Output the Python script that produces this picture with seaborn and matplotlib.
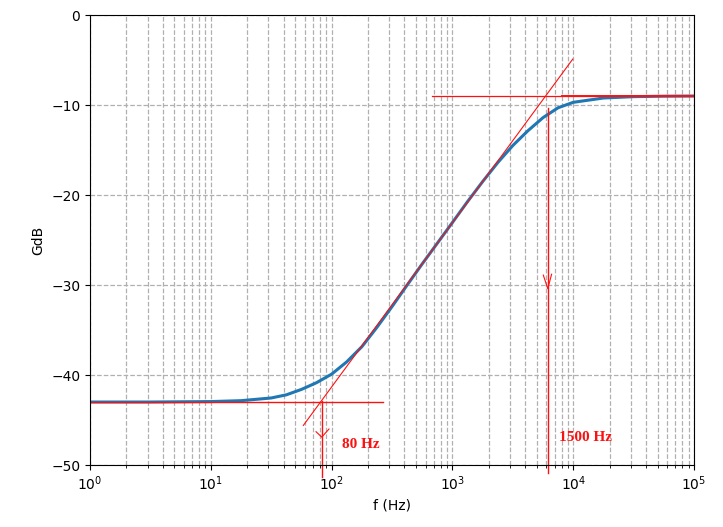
import matplotlib
matplotlib.use("Agg")
import matplotlib.pyplot as plt
import seaborn as sns
import pandas as pd

# Gain curve
freq_hz = [1, 3.16, 10, 17.8, 31.6, 42.2, 56.2, 75, 100, 133, 178, 237, 316, 422,
           562, 750, 1000, 1330, 1780, 2370, 3160, 4220, 5620, 7500, 10000,
           17800, 31600, 56200, 100000]
gain_db = [-43.0, -43.0, -42.95, -42.85, -42.55, -42.2, -41.6, -40.85, -39.9,
           -38.55, -36.85, -34.7, -32.4, -30.0, -27.65, -25.35, -23.05, -20.75,
           -18.5, -16.4, -14.5, -12.85, -11.4, -10.3, -9.7, -9.22, -9.07,
           -9.02, -9.0]

# Red hand-drawn construction lines
low_level_f = [1, 268]
low_level_g = [-43, -43]
high_level_f = [676, 100000]
high_level_g = [-9, -9]
high_level2_f = [8000, 100000]
high_level2_g = [-9, -9]
slope_f = [58.3, 9900]
slope_g = [-45.6, -4.9]
corner_low_f = [82.8, 82.8]
corner_low_g = [-42.9, -51.3]
corner_high_f = [6150, 6150]
corner_high_g = [-10.3, -50.9]
arrow_low_f = [74.3, 82.8, 95.1]
arrow_low_g = [-46.3, -46.9, -46.0]
arrow_high_f = [5650, 6150, 6620]
arrow_high_g = [-28.9, -30.4, -28.8]
labels = ["80 Hz", "1500 Hz"]
label_f = [121, 7670]
label_g = [-47.7, -46.9]

df = pd.DataFrame({"f": freq_hz, "G": gain_db})

fig = plt.figure(figsize=(7.23, 5.27), dpi=100)
ax = fig.add_axes([0.1245, 0.1176, 0.8355, 0.8539])

sns.lineplot(data=df, x="f", y="G", ax=ax, color="#1f77b4", linewidth=2.2,
             estimator=None, sort=True)

ax.set_xscale("log")
ax.set_xlim(1, 1e5)
ax.set_ylim(-50, 0)
ax.grid(True, which="both", linestyle="--", color="#b0b0b0", linewidth=0.9)
ax.set_xlabel("f (Hz)", fontsize=10)
ax.set_ylabel("GdB", fontsize=10)
ax.tick_params(labelsize=10)

red = "#ff1010"
ax.plot(low_level_f, low_level_g, color=red, lw=1.0)
ax.plot(high_level_f, high_level_g, color=red, lw=0.9)
ax.plot(high_level2_f, high_level2_g, color=red, lw=1.4)
ax.plot(slope_f, slope_g, color=red, lw=0.8)
ax.plot(corner_low_f, corner_low_g, color=red, lw=1.0, clip_on=False)
ax.plot(corner_high_f, corner_high_g, color=red, lw=1.0, clip_on=False)
ax.plot(arrow_low_f, arrow_low_g, color=red, lw=0.8)
ax.plot(arrow_high_f, arrow_high_g, color=red, lw=0.8)
for t, xf, yg in zip(labels, label_f, label_g):
    ax.text(xf, yg, t, color=red, fontsize=11, fontweight="bold",
            family="Liberation Serif", ha="left", va="center")

fig.savefig("out.png", dpi=100)
